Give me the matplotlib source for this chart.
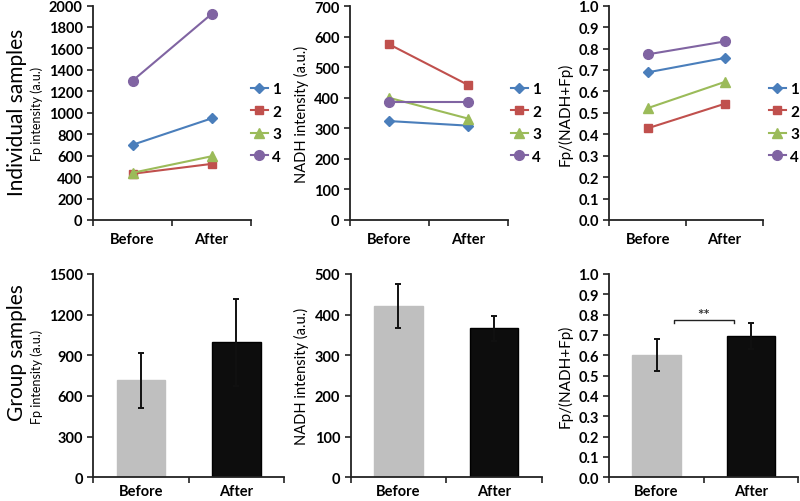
import matplotlib
matplotlib.use("Agg")
import matplotlib.pyplot as plt
from matplotlib.ticker import FormatStrFormatter, FixedLocator

plt.rcParams['font.family'] = ['Lato', 'DejaVu Sans']

# Data
categories = ["Before", "After"]
series_labels = ["1", "2", "3", "4"]
series_colors = ["#4A7EBB", "#C0504D", "#9BBB59", "#8064A2"]
series_markers = ["D", "s", "^", "o"]
series_msizes = [5, 6, 6.5, 7]

fp_indiv = [[701, 947], [431, 523], [440, 594], [1298, 1920]]
nadh_indiv = [[324, 309], [575, 442], [400, 332], [385, 385]]
ratio_indiv = [[0.689, 0.756], [0.428, 0.542], [0.522, 0.644], [0.773, 0.833]]

fp_mean = [716, 996]
fp_err = [204, 322]
nadh_mean = [421, 366]
nadh_err = [54, 30]
ratio_mean = [0.600, 0.694]
ratio_err = [0.078, 0.064]

bar_colors = ["#BFBFBF", "#0D0D0D"]

W, H = 800, 502
fig = plt.figure(figsize=(W / 100, H / 100), dpi=100)


def add_ax(left, bottom, right, top):
    return fig.add_axes([left / W, (H - bottom) / H, (right - left) / W, (bottom - top) / H])


def style_ax(ax, ylim, step, fmt=None, xpad=9):
    ax.set_xlim(0, 2)
    ax.set_ylim(*ylim)
    ax.spines['top'].set_visible(False)
    ax.spines['right'].set_visible(False)
    for s in ['left', 'bottom']:
        ax.spines[s].set_linewidth(1.3)
        ax.spines[s].set_color("#222222")
    ticks = []
    v = ylim[0]
    while v <= ylim[1] + 1e-9:
        ticks.append(round(v, 6))
        v += step
    ax.set_yticks(ticks)
    if fmt:
        ax.yaxis.set_major_formatter(FormatStrFormatter(fmt))
    ax.set_xticks([0, 1, 2])
    ax.set_xticklabels([])
    ax.xaxis.set_minor_locator(FixedLocator([0.5, 1.5]))
    ax.set_xticklabels(categories, minor=True)
    ax.tick_params(axis='x', which='minor', length=0, pad=xpad, labelsize=10.5)
    ax.tick_params(axis='both', which='major', direction='out', length=4, width=1.2,
                   color="#222222", labelsize=10.5)
    for lab in ax.get_yticklabels() + ax.get_xticklabels(minor=True):
        lab.set_fontweight('bold')


def line_panel(ax, data, ylim, step, ylabel, fmt, legend_x, ylabel_size):
    x = [0.5, 1.5]
    for vals, c, m, ms, lab in zip(data, series_colors, series_markers, series_msizes, series_labels):
        ax.plot(x, vals, color=c, marker=m, markersize=ms, linewidth=1.5, label=lab, clip_on=False)
    style_ax(ax, ylim, step, fmt)
    ax.set_ylabel(ylabel, fontsize=ylabel_size, labelpad=4)
    ax.legend(loc='center left', bbox_to_anchor=(legend_x / W, (H - 124) / H),
              bbox_transform=fig.transFigure, frameon=False, borderaxespad=0,
              borderpad=0, handlelength=1.1, handletextpad=0.3, labelspacing=0.55,
              prop={'weight': 'bold', 'size': 11})


def bar_panel(ax, means, errs, ylim, step, ylabel, fmt, ylabel_size):
    x = [0.5, 1.5]
    ax.bar(x, means, width=0.51, color=bar_colors, edgecolor=["#BFBFBF", "#000000"], linewidth=1)
    ax.errorbar(x, means, yerr=errs, fmt='none', ecolor='#111111', elinewidth=1.4,
                capsize=2, capthick=1.4)
    style_ax(ax, ylim, step, fmt, xpad=5)
    ax.set_ylabel(ylabel, fontsize=ylabel_size, labelpad=4)


ax1 = add_ax(93, 221, 251, 6.5)
line_panel(ax1, fp_indiv, (0, 2000), 200, "Fp intensity (a.u.)", None, 251, 9)
ax2 = add_ax(350, 221, 507.7, 7.3)
line_panel(ax2, nadh_indiv, (0, 700), 100, "NADH intensity (a.u.)", None, 511, 10.5)
ax3 = add_ax(609.3, 221, 763, 6.7)
line_panel(ax3, ratio_indiv, (0, 1.0), 0.1, "Fp/(NADH+Fp)", '%.1f', 769, 11)

ax4 = add_ax(93.3, 478.3, 284, 275)
bar_panel(ax4, fp_mean, fp_err, (0, 1500), 300, "Fp intensity (a.u.)", None, 9)
ax5 = add_ax(350.7, 478.3, 541.7, 275)
bar_panel(ax5, nadh_mean, nadh_err, (0, 500), 100, "NADH intensity (a.u.)", None, 10.5)
ax6 = add_ax(609.3, 478.3, 798.3, 275)
bar_panel(ax6, ratio_mean, ratio_err, (0, 1.0), 0.1, "Fp/(NADH+Fp)", '%.1f', 11)

# significance bracket
ax6.plot([0.68, 0.68, 1.32, 1.32], [0.759, 0.775, 0.775, 0.759], color='#222222', linewidth=1)
ax6.text(1.0, 0.80, "**", ha='center', va='center', fontsize=11, fontweight='bold', color='#333333')

fig.text(17 / W, (H - 112) / H, "Individual samples", rotation=90, ha='center', va='center',
         fontsize=15)
fig.text(17 / W, (H - 353) / H, "Group samples", rotation=90, ha='center', va='center',
         fontsize=15)

fig.savefig("out.png", dpi=100)
